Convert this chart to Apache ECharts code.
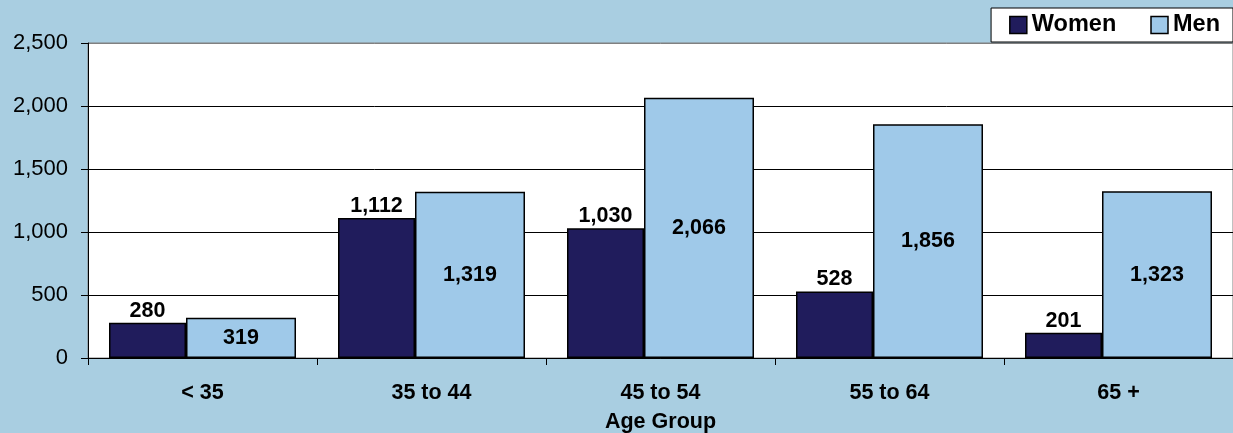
<!DOCTYPE html>
<html>
<head>
<meta charset="utf-8">
<script src="https://cdn.jsdelivr.net/npm/echarts@6/dist/echarts.min.js"></script>
<style>html,body{margin:0;padding:0;background:#A9CEE1;}#c{width:1233px;height:433px;}</style>
</head>
<body>
<div id="c"></div>
<script>
var categories = ['< 35', '35 to 44', '45 to 54', '55 to 64', '65 +'];
var women = [280, 1112, 1030, 528, 201];
var men = [319, 1319, 2066, 1856, 1323];
var yTicks = { min: 0, max: 2500, interval: 500 };

function fmt(v) { return String(v).replace(/\B(?=(\d{3})+(?!\d))/g, ','); }
var FONT = '"Liberation Sans", Arial, sans-serif';

var chart = echarts.init(document.getElementById('c'));
chart.setOption({
  backgroundColor: '#A9CEE1',
  animation: false,
  textStyle: { fontFamily: FONT },
  grid: { left: 88, right: 0, top: 43, bottom: 75, show: true, backgroundColor: '#fff', borderColor: '#808080', borderWidth: 1, containLabel: false, outerBoundsMode: 'none' },
  legend: {
    right: 0, top: 8,
    backgroundColor: '#fff', borderColor: '#000', borderWidth: 1,
    padding: [5, 13, 5, 18],
    icon: 'rect',
    itemWidth: 17, itemHeight: 17, itemGap: 34,
    textStyle: { fontFamily: FONT, fontSize: 23.5, fontWeight: 'bold', color: '#000' },
    data: [
      { name: 'Women', itemStyle: { borderColor: '#000', borderWidth: 1.5 } },
      { name: 'Men', itemStyle: { borderColor: '#000', borderWidth: 1.5 } }
    ]
  },
  xAxis: {
    type: 'category',
    data: categories,
    name: 'Age Group',
    nameLocation: 'middle',
    nameGap: 53,
    nameTextStyle: { fontFamily: FONT, fontSize: 21.5, fontWeight: 'bold', color: '#000' },
    axisLine: { lineStyle: { color: '#000', width: 1 } },
    axisTick: { show: true, length: 7, lineStyle: { color: '#000' } },
    axisLabel: { fontFamily: FONT, fontSize: 21.5, fontWeight: 'bold', color: '#000', margin: 24 }
  },
  yAxis: {
    type: 'value',
    min: yTicks.min, max: yTicks.max, interval: yTicks.interval,
    axisLine: { show: true, lineStyle: { color: '#000', width: 1 } },
    axisTick: { show: true, length: 7, lineStyle: { color: '#000' } },
    splitLine: { lineStyle: { color: ['#000', '#000', '#000', '#000', '#000', '#808080'], width: 1 } },
    axisLabel: { fontFamily: FONT, fontSize: 22, color: '#000', margin: 20, formatter: function (v) { return fmt(v); } }
  },
  series: [
    {
      name: 'Women', type: 'bar', data: women,
      barWidth: 77, barGap: '0%',
      itemStyle: { color: '#201C5C', borderColor: '#000', borderWidth: 1.5 },
      label: { show: true, position: 'top', distance: 1, fontFamily: FONT, fontSize: 21.5, fontWeight: 'bold', color: '#000', formatter: function (p) { return fmt(p.value); } }
    },
    {
      name: 'Men', type: 'bar', data: men,
      barWidth: 110, barGap: '0%',
      itemStyle: { color: '#9FC9E9', borderColor: '#000', borderWidth: 1.5 },
      label: { show: true, position: 'inside', fontFamily: FONT, fontSize: 21.5, fontWeight: 'bold', color: '#000', formatter: function (p) { return fmt(p.value); } }
    }
  ]
});
</script>
</body>
</html>
